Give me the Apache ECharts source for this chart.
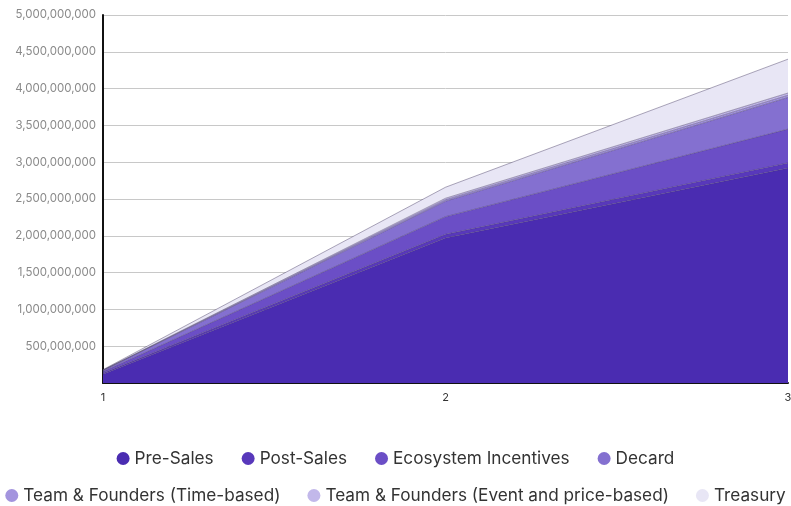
<!DOCTYPE html>
<html>
<head>
<meta charset="utf-8">
<script src="https://cdn.jsdelivr.net/npm/echarts@6/dist/echarts.min.js"></script>
<style>
  html, body { margin: 0; padding: 0; background: #fff; }
  #chart { width: 791px; height: 506px; }
</style>
</head>
<body>
<div id="chart"></div>
<script>
// x categories (periods)
const periods = ["1", "2", "3"];

// stacked token amounts per series
const preSales = [120000000, 1970000000, 2920000000];
const postSales = [15000000, 50000000, 70000000];
const ecosystem = [20000000, 240000000, 460000000];
const decard = [15000000, 210000000, 430000000];
const teamTime = [3000000, 20000000, 30000000];
const teamEvent = [3000000, 20000000, 30000000];
const treasury = [5000000, 150000000, 460000000];

const names = [
  "Pre-Sales",
  "Post-Sales",
  "Ecosystem Incentives",
  "Decard",
  "Team & Founders (Time-based)",
  "Team & Founders (Event and price-based)",
  "Treasury",
];
const values = [preSales, postSales, ecosystem, decard, teamTime, teamEvent, treasury];
const colors = ["#4a2cb1", "#5838bb", "#6b4ec6", "#8470d0", "#a394de", "#c2b8ea", "#e8e6f5"];

const chart = echarts.init(document.getElementById("chart"));

const legendText = { fontSize: 17.2, color: "#333", fontFamily: "Inter" };

chart.setOption({
  animation: false,
  textStyle: { fontFamily: "Inter" },
  legend: [
    {
      data: names.slice(0, 4),
      top: 445,
      left: "center",
      icon: "circle",
      itemWidth: 13,
      itemHeight: 13,
      itemGap: 28,
      textStyle: legendText,
    },
    {
      data: names.slice(4),
      top: 482,
      left: "center",
      padding: [5, 0],
      icon: "circle",
      itemWidth: 13,
      itemHeight: 13,
      itemGap: 27,
      textStyle: legendText,
    },
  ],
  grid: {
    left: 103,
    right: 3,
    top: 15,
    bottom: 123,
    outerBoundsMode: "none",
  },
  xAxis: {
    type: "category",
    boundaryGap: false,
    data: periods,
    axisLine: { lineStyle: { color: "#111", width: 2 } },
    axisTick: { show: false },
    axisLabel: { color: "#333", fontSize: 11, margin: 9 },
  },
  yAxis: {
    type: "value",
    min: 0,
    max: 5000000000,
    interval: 500000000,
    axisLine: { show: true, lineStyle: { color: "#111", width: 2 } },
    axisTick: { show: false },
    splitLine: { lineStyle: { color: "#c8c8c8" } },
    axisLabel: {
      color: "#8a8a8a",
      fontSize: 11.5,
      margin: 7,
      formatter: function (v) {
        return v === 0 ? "" : v.toLocaleString("en-US");
      },
    },
  },
  series: names.map(function (name, i) {
    return {
      name: name,
      type: "line",
      stack: "total",
      data: values[i],
      symbol: "none",
      color: colors[i],
      lineStyle: { width: 1, color: "rgba(70,60,100,0.45)" },
      areaStyle: { color: colors[i], opacity: 1 },
    };
  }),
});
</script>
</body>
</html>
